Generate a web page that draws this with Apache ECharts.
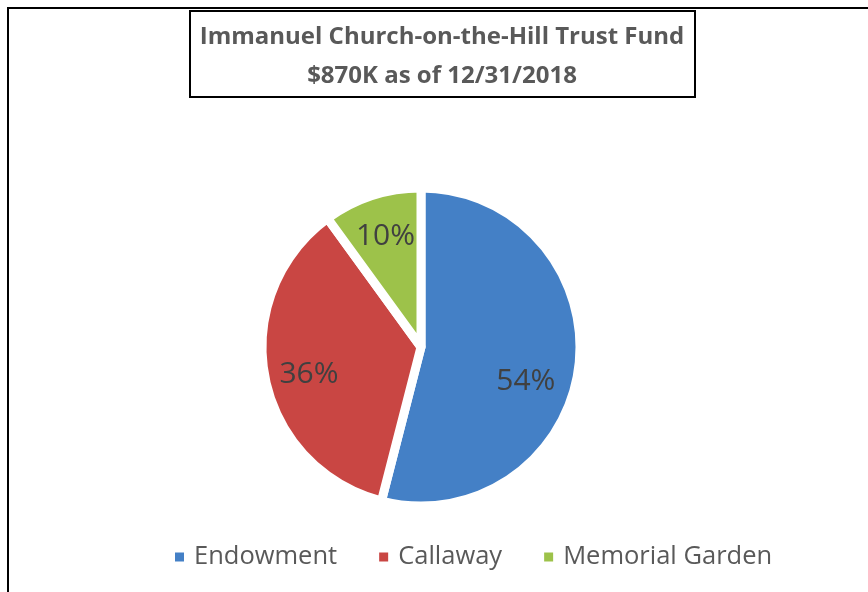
<!DOCTYPE html>
<html><head><meta charset="utf-8">
<script src="https://cdn.jsdelivr.net/npm/echarts@6/dist/echarts.min.js"></script>
<style>html,body{margin:0;padding:0;background:#fff}#c{width:868px;height:592px}</style>
</head><body><div id="c"></div>
<script>
const categories = ['Endowment', 'Callaway', 'Memorial Garden'];
const values = [54, 36, 10];
const colors = ['#4480C6', '#C94643', '#9DC24A'];
const titleLines = ['Immanuel Church-on-the-Hill Trust Fund', '$870K as of 12/31/2018'];
const labelOffsets = [[23, 24], [-31, 12], [-10, -32]];

const chart = echarts.init(document.getElementById('c'), null, {renderer: 'canvas'});
chart.setOption({
  backgroundColor: '#fff',
  animation: false,
  graphic: [
    {type: 'rect', shape: {x: 8, y: 8, width: 900, height: 700}, style: {fill: null, stroke: '#000', lineWidth: 2}},
    {type: 'rect', shape: {x: 190, y: 11, width: 505, height: 86}, style: {fill: '#fff', stroke: '#000', lineWidth: 2}}
  ],
  title: {
    text: titleLines.join('\n'),
    left: 437, top: 13, textAlign: 'center',
    textStyle: {fontFamily: 'Open Sans', fontWeight: 'bold', fontSize: 24, color: '#595959', lineHeight: 39}
  },
  legend: {
    data: categories,
    bottom: 17, left: 168,
    icon: 'rect', itemWidth: 11, itemHeight: 11, itemGap: 40,
    textStyle: {fontFamily: 'Open Sans', fontSize: 25.5, color: '#595959', padding: [0, 0, 0, 4]}
  },
  series: [{
    type: 'pie',
    center: [421, 347], radius: ['0%', 159],
    startAngle: 90, clockwise: true,
    itemStyle: {borderColor: '#fff', borderWidth: 9},
    label: {
      position: 'inside', formatter: '{d}%',
      fontFamily: 'Open Sans', fontSize: 30, color: '#404040'
    },
    labelLine: {show: false},
    emphasis: {disabled: true},
    data: categories.map((n, i) => ({
      name: n, value: values[i],
      itemStyle: {color: colors[i]},
      label: {offset: labelOffsets[i]}
    }))
  }]
});
</script></body></html>
